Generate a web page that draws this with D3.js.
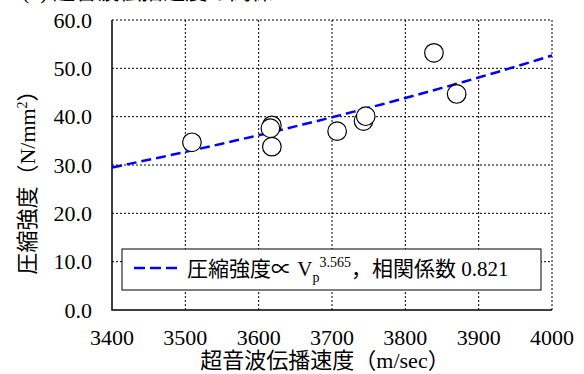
<!DOCTYPE html>
<html lang="ja">
<head>
    <meta charset="UTF-8">
    <title>超音波伝播速度と圧縮強度</title>
    <script src="https://d3js.org/d3.v7.min.js"></script>
    <style>
        body { margin: 0; background: white; }
        svg { background-color: white; }
    </style>
</head>
<body>
    <script>
        const width = 584;
        const height = 374;
        const margin = {top: 20, right: 32, bottom: 64, left: 112};
        const fontStack = '"Liberation Serif", "Times New Roman", "Noto Sans CJK JP", serif';

        // data
        const velocity = [3509, 3618, 3616, 3618, 3707, 3743, 3746, 3839, 3870];
        const strength = [34.7, 38.2, 37.6, 33.8, 37.0, 39.1, 40.1, 53.2, 44.7];
        const xTicks = [3400, 3500, 3600, 3700, 3800, 3900, 4000];
        const yTicks = [0, 10, 20, 30, 40, 50, 60];
        const fitExponent = 3.565;
        const fitAt3400 = 29.5;   // fitted strength at the left edge
        const fitCorrelation = 0.821;

        const svg = d3.select('body')
                      .append('svg')
                      .attr('width', width)
                      .attr('height', height)
                      .attr('font-family', fontStack)
                      .style('font-family', fontStack);

        const xScale = d3.scaleLinear()
                         .domain([3400, 4000])
                         .range([margin.left, width - margin.right]);

        const yScale = d3.scaleLinear()
                         .domain([0, 60])
                         .range([height - margin.bottom, margin.top]);

        // caption cut off by the top edge, only its lower rim shows
        svg.append('text')
           .attr('x', 22)
           .attr('y', -1)
           .style('font-size', '22px')
           .text('(b) 超音波伝播速度の関係');

        // dotted grid
        svg.append('g')
           .selectAll('line')
           .data(xTicks.slice(1))
           .join('line')
           .attr('x1', d => xScale(d)).attr('x2', d => xScale(d))
           .attr('y1', margin.top).attr('y2', height - margin.bottom)
           .attr('stroke', 'black').attr('stroke-width', 1)
           .attr('stroke-dasharray', '2,2');

        svg.append('g')
           .selectAll('line')
           .data(yTicks.slice(1))
           .join('line')
           .attr('x1', margin.left).attr('x2', width - margin.right)
           .attr('y1', d => yScale(d)).attr('y2', d => yScale(d))
           .attr('stroke', 'black').attr('stroke-width', 1)
           .attr('stroke-dasharray', '2,2');

        // left and bottom frame
        svg.append('path')
           .attr('d', `M${margin.left},${margin.top}V${height - margin.bottom}H${width - margin.right}`)
           .attr('fill', 'none')
           .attr('stroke', 'black')
           .attr('stroke-width', 1.5);

        // tick labels
        svg.append('g')
           .selectAll('text')
           .data(yTicks)
           .join('text')
           .attr('x', 92)
           .attr('y', d => yScale(d))
           .attr('dy', '0.35em')
           .attr('text-anchor', 'end')
           .style('font-size', '22px')
           .text(d => d.toFixed(1));

        svg.append('g')
           .selectAll('text')
           .data(xTicks)
           .join('text')
           .attr('x', d => xScale(d))
           .attr('y', 345)
           .attr('text-anchor', 'middle')
           .style('font-size', '22px')
           .text(d => d);

        // axis titles
        svg.append('text')
           .attr('x', 325)
           .attr('y', 368)
           .attr('text-anchor', 'middle')
           .style('font-size', '22px')
           .text('超音波伝播速度（m/sec）');

        const yTitle = svg.append('text')
           .attr('transform', `translate(35,${yScale(30) + 12}) rotate(-90)`)
           .attr('text-anchor', 'middle')
           .style('font-size', '22px');
        yTitle.append('tspan').text('圧縮強度（N/mm');
        yTitle.append('tspan').attr('dy', -8).style('font-size', '14px').text('2');
        yTitle.append('tspan').attr('dy', 8).text('）');

        // power-law fit line
        const fitX = d3.range(3400, 4001, 10);
        const fitLine = d3.line()
                          .x(d => xScale(d))
                          .y(d => yScale(fitAt3400 * Math.pow(d / 3400, fitExponent)));

        svg.append('path')
           .datum(fitX)
           .attr('d', fitLine)
           .attr('fill', 'none')
           .attr('stroke', '#0000ff')
           .attr('stroke-width', 2.5)
           .attr('stroke-dasharray', '10,5');

        // measured points
        svg.append('g')
           .selectAll('circle')
           .data(velocity.map((v, i) => ({v: v, s: strength[i]})))
           .join('circle')
           .attr('cx', d => xScale(d.v))
           .attr('cy', d => yScale(d.s))
           .attr('r', 9.3)
           .attr('fill', 'white')
           .attr('stroke', 'black')
           .attr('stroke-width', 1.2);

        // legend
        const legend = svg.append('g');
        legend.append('rect')
              .attr('x', 122).attr('y', 249)
              .attr('width', 419).attr('height', 41)
              .attr('fill', 'white')
              .attr('stroke', 'black')
              .attr('stroke-width', 1);
        legend.append('line')
              .attr('x1', 134).attr('x2', 180)
              .attr('y1', 268).attr('y2', 268)
              .attr('stroke', '#0000ff')
              .attr('stroke-width', 2.5)
              .attr('stroke-dasharray', '11,5');
        const lt = legend.append('text')
              .attr('x', 187)
              .attr('y', 276)
              .style('font-size', '21px');
        lt.append('tspan').text('圧縮強度∝ V');
        lt.append('tspan').attr('dy', 6).style('font-size', '14px').text('p');
        lt.append('tspan').attr('dy', -15).style('font-size', '14px').text(fitExponent.toFixed(3));
        lt.append('tspan').attr('dy', 9).text('，相関係数 ' + fitCorrelation.toFixed(3));
    </script>
</body>
</html>
